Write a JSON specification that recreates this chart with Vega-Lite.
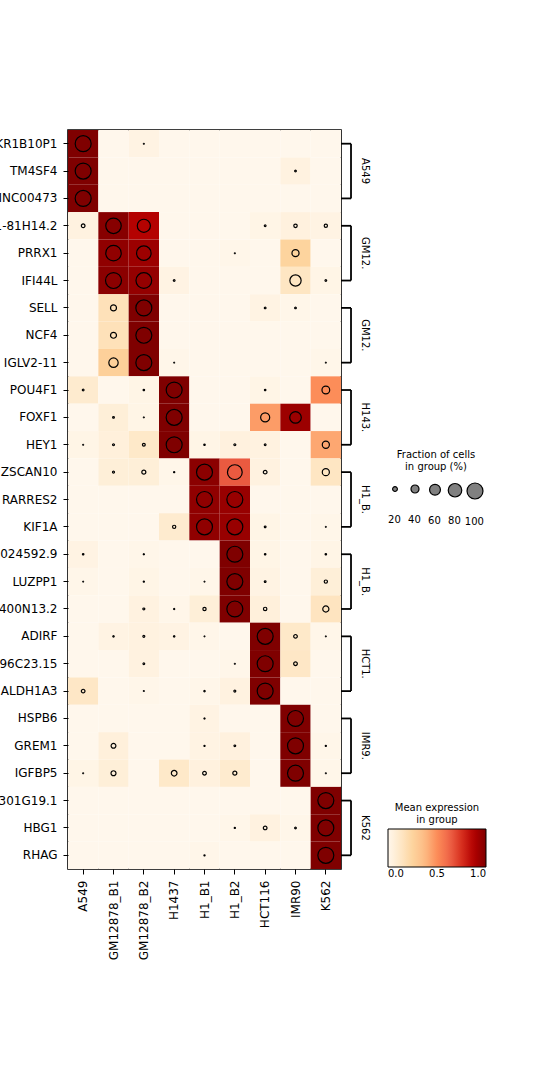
{
  "$schema": "https://vega.github.io/schema/vega-lite/v6.json",
  "width": 273,
  "height": 739,
  "autosize": {"type": "none"},
  "padding": {"left": 68, "top": 130, "right": 199, "bottom": 211},
  "background": "white",
  "config": {
    "font": "DejaVu Sans",
    "view": {"stroke": "black", "strokeWidth": 1.6},
    "axis": {"domain": false, "tickColor": "black", "tickWidth": 1, "tickSize": 5, "labelPadding": 6, "labelFontSize": 12, "labelColor": "black", "title": null},
    "legend": {"titleFontSize": 10, "titleFontWeight": "normal", "titleColor": "black", "labelFontSize": 10, "labelColor": "black", "padding": 0}
  },
  "datasets": {
    "cells": [
      {"gene":"AKR1B10P1","group":"A549","expr":1,"frac":100},{"gene":"AKR1B10P1","group":"GM12878_B1","expr":0,"frac":0},{"gene":"AKR1B10P1","group":"GM12878_B2","expr":0.03,"frac":2},{"gene":"AKR1B10P1","group":"H1437","expr":0,"frac":0},{"gene":"AKR1B10P1","group":"H1_B1","expr":0,"frac":0},{"gene":"AKR1B10P1","group":"H1_B2","expr":0,"frac":0},{"gene":"AKR1B10P1","group":"HCT116","expr":0,"frac":0},{"gene":"AKR1B10P1","group":"IMR90","expr":0,"frac":0},{"gene":"AKR1B10P1","group":"K562","expr":0,"frac":0},
      {"gene":"TM4SF4","group":"A549","expr":1,"frac":100},{"gene":"TM4SF4","group":"GM12878_B1","expr":0,"frac":0},{"gene":"TM4SF4","group":"GM12878_B2","expr":0,"frac":0},{"gene":"TM4SF4","group":"H1437","expr":0,"frac":0},{"gene":"TM4SF4","group":"H1_B1","expr":0,"frac":0},{"gene":"TM4SF4","group":"H1_B2","expr":0,"frac":0},{"gene":"TM4SF4","group":"HCT116","expr":0,"frac":0},{"gene":"TM4SF4","group":"IMR90","expr":0.04,"frac":5},{"gene":"TM4SF4","group":"K562","expr":0,"frac":0},
      {"gene":"LINC00473","group":"A549","expr":1,"frac":100},{"gene":"LINC00473","group":"GM12878_B1","expr":0,"frac":0},{"gene":"LINC00473","group":"GM12878_B2","expr":0,"frac":0},{"gene":"LINC00473","group":"H1437","expr":0,"frac":0},{"gene":"LINC00473","group":"H1_B1","expr":0,"frac":0},{"gene":"LINC00473","group":"H1_B2","expr":0,"frac":0},{"gene":"LINC00473","group":"HCT116","expr":0,"frac":0},{"gene":"LINC00473","group":"IMR90","expr":0,"frac":0},{"gene":"LINC00473","group":"K562","expr":0,"frac":0},
      {"gene":"RP11-81H14.2","group":"A549","expr":0.04,"frac":14},{"gene":"RP11-81H14.2","group":"GM12878_B1","expr":0.98,"frac":96},{"gene":"RP11-81H14.2","group":"GM12878_B2","expr":0.87,"frac":77},{"gene":"RP11-81H14.2","group":"H1437","expr":0,"frac":0},{"gene":"RP11-81H14.2","group":"H1_B1","expr":0,"frac":0},{"gene":"RP11-81H14.2","group":"H1_B2","expr":0,"frac":0},{"gene":"RP11-81H14.2","group":"HCT116","expr":0.02,"frac":5},{"gene":"RP11-81H14.2","group":"IMR90","expr":0.05,"frac":13},{"gene":"RP11-81H14.2","group":"K562","expr":0.03,"frac":12},
      {"gene":"PRRX1","group":"A549","expr":0,"frac":0},{"gene":"PRRX1","group":"GM12878_B1","expr":0.96,"frac":96},{"gene":"PRRX1","group":"GM12878_B2","expr":0.93,"frac":88},{"gene":"PRRX1","group":"H1437","expr":0,"frac":0},{"gene":"PRRX1","group":"H1_B1","expr":0,"frac":0},{"gene":"PRRX1","group":"H1_B2","expr":0.01,"frac":2},{"gene":"PRRX1","group":"HCT116","expr":0,"frac":0},{"gene":"PRRX1","group":"IMR90","expr":0.25,"frac":34},{"gene":"PRRX1","group":"K562","expr":0,"frac":0},
      {"gene":"IFI44L","group":"A549","expr":0,"frac":0},{"gene":"IFI44L","group":"GM12878_B1","expr":0.97,"frac":100},{"gene":"IFI44L","group":"GM12878_B2","expr":0.95,"frac":98},{"gene":"IFI44L","group":"H1437","expr":0.03,"frac":5},{"gene":"IFI44L","group":"H1_B1","expr":0,"frac":0},{"gene":"IFI44L","group":"H1_B2","expr":0,"frac":0},{"gene":"IFI44L","group":"HCT116","expr":0,"frac":0},{"gene":"IFI44L","group":"IMR90","expr":0.14,"frac":63},{"gene":"IFI44L","group":"K562","expr":0.02,"frac":5},
      {"gene":"SELL","group":"A549","expr":0,"frac":0},{"gene":"SELL","group":"GM12878_B1","expr":0.17,"frac":27},{"gene":"SELL","group":"GM12878_B2","expr":1,"frac":100},{"gene":"SELL","group":"H1437","expr":0,"frac":0},{"gene":"SELL","group":"H1_B1","expr":0,"frac":0},{"gene":"SELL","group":"H1_B2","expr":0,"frac":0},{"gene":"SELL","group":"HCT116","expr":0.03,"frac":5},{"gene":"SELL","group":"IMR90","expr":0.01,"frac":5},{"gene":"SELL","group":"K562","expr":0,"frac":0},
      {"gene":"NCF4","group":"A549","expr":0,"frac":0},{"gene":"NCF4","group":"GM12878_B1","expr":0.17,"frac":27},{"gene":"NCF4","group":"GM12878_B2","expr":1,"frac":100},{"gene":"NCF4","group":"H1437","expr":0,"frac":0},{"gene":"NCF4","group":"H1_B1","expr":0,"frac":0},{"gene":"NCF4","group":"H1_B2","expr":0,"frac":0},{"gene":"NCF4","group":"HCT116","expr":0,"frac":0},{"gene":"NCF4","group":"IMR90","expr":0,"frac":0},{"gene":"NCF4","group":"K562","expr":0,"frac":0},
      {"gene":"IGLV2-11","group":"A549","expr":0,"frac":0},{"gene":"IGLV2-11","group":"GM12878_B1","expr":0.27,"frac":49},{"gene":"IGLV2-11","group":"GM12878_B2","expr":1,"frac":100},{"gene":"IGLV2-11","group":"H1437","expr":0.01,"frac":2},{"gene":"IGLV2-11","group":"H1_B1","expr":0,"frac":0},{"gene":"IGLV2-11","group":"H1_B2","expr":0,"frac":0},{"gene":"IGLV2-11","group":"HCT116","expr":0,"frac":0},{"gene":"IGLV2-11","group":"IMR90","expr":0,"frac":0},{"gene":"IGLV2-11","group":"K562","expr":0.01,"frac":2},
      {"gene":"POU4F1","group":"A549","expr":0.1,"frac":5},{"gene":"POU4F1","group":"GM12878_B1","expr":0,"frac":0},{"gene":"POU4F1","group":"GM12878_B2","expr":0.02,"frac":4},{"gene":"POU4F1","group":"H1437","expr":1,"frac":100},{"gene":"POU4F1","group":"H1_B1","expr":0,"frac":0},{"gene":"POU4F1","group":"H1_B2","expr":0,"frac":0},{"gene":"POU4F1","group":"HCT116","expr":0.02,"frac":4},{"gene":"POU4F1","group":"IMR90","expr":0,"frac":0},{"gene":"POU4F1","group":"K562","expr":0.5,"frac":38},
      {"gene":"FOXF1","group":"A549","expr":0,"frac":0},{"gene":"FOXF1","group":"GM12878_B1","expr":0.07,"frac":5},{"gene":"FOXF1","group":"GM12878_B2","expr":0.02,"frac":2},{"gene":"FOXF1","group":"H1437","expr":1,"frac":100},{"gene":"FOXF1","group":"H1_B1","expr":0,"frac":0},{"gene":"FOXF1","group":"H1_B2","expr":0,"frac":0},{"gene":"FOXF1","group":"HCT116","expr":0.46,"frac":47},{"gene":"FOXF1","group":"IMR90","expr":0.93,"frac":65},{"gene":"FOXF1","group":"K562","expr":0,"frac":0},
      {"gene":"HEY1","group":"A549","expr":0.02,"frac":2},{"gene":"HEY1","group":"GM12878_B1","expr":0.06,"frac":6},{"gene":"HEY1","group":"GM12878_B2","expr":0.12,"frac":10},{"gene":"HEY1","group":"H1437","expr":1,"frac":100},{"gene":"HEY1","group":"H1_B1","expr":0.02,"frac":4},{"gene":"HEY1","group":"H1_B2","expr":0.05,"frac":6},{"gene":"HEY1","group":"HCT116","expr":0.04,"frac":5},{"gene":"HEY1","group":"IMR90","expr":0,"frac":0},{"gene":"HEY1","group":"K562","expr":0.43,"frac":34},
      {"gene":"ZSCAN10","group":"A549","expr":0,"frac":0},{"gene":"ZSCAN10","group":"GM12878_B1","expr":0.07,"frac":6},{"gene":"ZSCAN10","group":"GM12878_B2","expr":0.07,"frac":16},{"gene":"ZSCAN10","group":"H1437","expr":0.01,"frac":3},{"gene":"ZSCAN10","group":"H1_B1","expr":0.97,"frac":100},{"gene":"ZSCAN10","group":"H1_B2","expr":0.65,"frac":90},{"gene":"ZSCAN10","group":"HCT116","expr":0.04,"frac":14},{"gene":"ZSCAN10","group":"IMR90","expr":0,"frac":0},{"gene":"ZSCAN10","group":"K562","expr":0.14,"frac":34},
      {"gene":"RARRES2","group":"A549","expr":0,"frac":0},{"gene":"RARRES2","group":"GM12878_B1","expr":0,"frac":0},{"gene":"RARRES2","group":"GM12878_B2","expr":0,"frac":0},{"gene":"RARRES2","group":"H1437","expr":0,"frac":0},{"gene":"RARRES2","group":"H1_B1","expr":0.96,"frac":100},{"gene":"RARRES2","group":"H1_B2","expr":0.94,"frac":100},{"gene":"RARRES2","group":"HCT116","expr":0,"frac":0},{"gene":"RARRES2","group":"IMR90","expr":0,"frac":0},{"gene":"RARRES2","group":"K562","expr":0,"frac":0},
      {"gene":"KIF1A","group":"A549","expr":0,"frac":0},{"gene":"KIF1A","group":"GM12878_B1","expr":0,"frac":0},{"gene":"KIF1A","group":"GM12878_B2","expr":0,"frac":0},{"gene":"KIF1A","group":"H1437","expr":0.1,"frac":12},{"gene":"KIF1A","group":"H1_B1","expr":0.96,"frac":100},{"gene":"KIF1A","group":"H1_B2","expr":0.94,"frac":100},{"gene":"KIF1A","group":"HCT116","expr":0.02,"frac":5},{"gene":"KIF1A","group":"IMR90","expr":0,"frac":0},{"gene":"KIF1A","group":"K562","expr":0.01,"frac":2},
      {"gene":"AC024592.9","group":"A549","expr":0.03,"frac":4},{"gene":"AC024592.9","group":"GM12878_B1","expr":0,"frac":0},{"gene":"AC024592.9","group":"GM12878_B2","expr":0.01,"frac":3},{"gene":"AC024592.9","group":"H1437","expr":0,"frac":0},{"gene":"AC024592.9","group":"H1_B1","expr":0,"frac":0},{"gene":"AC024592.9","group":"H1_B2","expr":1,"frac":100},{"gene":"AC024592.9","group":"HCT116","expr":0.02,"frac":4},{"gene":"AC024592.9","group":"IMR90","expr":0,"frac":0},{"gene":"AC024592.9","group":"K562","expr":0.02,"frac":4},
      {"gene":"LUZPP1","group":"A549","expr":0.01,"frac":2},{"gene":"LUZPP1","group":"GM12878_B1","expr":0,"frac":0},{"gene":"LUZPP1","group":"GM12878_B2","expr":0.02,"frac":3},{"gene":"LUZPP1","group":"H1437","expr":0,"frac":0},{"gene":"LUZPP1","group":"H1_B1","expr":0.01,"frac":2},{"gene":"LUZPP1","group":"H1_B2","expr":1,"frac":100},{"gene":"LUZPP1","group":"HCT116","expr":0.03,"frac":5},{"gene":"LUZPP1","group":"IMR90","expr":0,"frac":0},{"gene":"LUZPP1","group":"K562","expr":0.07,"frac":12},
      {"gene":"RP11-400N13.2","group":"A549","expr":0,"frac":0},{"gene":"RP11-400N13.2","group":"GM12878_B1","expr":0,"frac":0},{"gene":"RP11-400N13.2","group":"GM12878_B2","expr":0.04,"frac":6},{"gene":"RP11-400N13.2","group":"H1437","expr":0.01,"frac":3},{"gene":"RP11-400N13.2","group":"H1_B1","expr":0.07,"frac":12},{"gene":"RP11-400N13.2","group":"H1_B2","expr":1,"frac":100},{"gene":"RP11-400N13.2","group":"HCT116","expr":0.06,"frac":13},{"gene":"RP11-400N13.2","group":"IMR90","expr":0,"frac":0},{"gene":"RP11-400N13.2","group":"K562","expr":0.15,"frac":28},
      {"gene":"ADIRF","group":"A549","expr":0,"frac":0},{"gene":"ADIRF","group":"GM12878_B1","expr":0.03,"frac":4},{"gene":"ADIRF","group":"GM12878_B2","expr":0.04,"frac":6},{"gene":"ADIRF","group":"H1437","expr":0.03,"frac":4},{"gene":"ADIRF","group":"H1_B1","expr":0.01,"frac":2},{"gene":"ADIRF","group":"H1_B2","expr":0,"frac":0},{"gene":"ADIRF","group":"HCT116","expr":1,"frac":100},{"gene":"ADIRF","group":"IMR90","expr":0.12,"frac":14},{"gene":"ADIRF","group":"K562","expr":0.01,"frac":2},
      {"gene":"RP11-96C23.15","group":"A549","expr":0,"frac":0},{"gene":"RP11-96C23.15","group":"GM12878_B1","expr":0,"frac":0},{"gene":"RP11-96C23.15","group":"GM12878_B2","expr":0.04,"frac":5},{"gene":"RP11-96C23.15","group":"H1437","expr":0,"frac":0},{"gene":"RP11-96C23.15","group":"H1_B1","expr":0,"frac":0},{"gene":"RP11-96C23.15","group":"H1_B2","expr":0.01,"frac":2},{"gene":"RP11-96C23.15","group":"HCT116","expr":1,"frac":100},{"gene":"RP11-96C23.15","group":"IMR90","expr":0.13,"frac":14},{"gene":"RP11-96C23.15","group":"K562","expr":0,"frac":0},
      {"gene":"ALDH1A3","group":"A549","expr":0.13,"frac":14},{"gene":"ALDH1A3","group":"GM12878_B1","expr":0,"frac":0},{"gene":"ALDH1A3","group":"GM12878_B2","expr":0.01,"frac":2},{"gene":"ALDH1A3","group":"H1437","expr":0,"frac":0},{"gene":"ALDH1A3","group":"H1_B1","expr":0.01,"frac":4},{"gene":"ALDH1A3","group":"H1_B2","expr":0.04,"frac":6},{"gene":"ALDH1A3","group":"HCT116","expr":1,"frac":100},{"gene":"ALDH1A3","group":"IMR90","expr":0,"frac":0},{"gene":"ALDH1A3","group":"K562","expr":0,"frac":0},
      {"gene":"HSPB6","group":"A549","expr":0,"frac":0},{"gene":"HSPB6","group":"GM12878_B1","expr":0,"frac":0},{"gene":"HSPB6","group":"GM12878_B2","expr":0,"frac":0},{"gene":"HSPB6","group":"H1437","expr":0,"frac":0},{"gene":"HSPB6","group":"H1_B1","expr":0.03,"frac":3},{"gene":"HSPB6","group":"H1_B2","expr":0,"frac":0},{"gene":"HSPB6","group":"HCT116","expr":0,"frac":0},{"gene":"HSPB6","group":"IMR90","expr":1,"frac":100},{"gene":"HSPB6","group":"K562","expr":0,"frac":0},
      {"gene":"GREM1","group":"A549","expr":0,"frac":0},{"gene":"GREM1","group":"GM12878_B1","expr":0.06,"frac":20},{"gene":"GREM1","group":"GM12878_B2","expr":0,"frac":0},{"gene":"GREM1","group":"H1437","expr":0,"frac":0},{"gene":"GREM1","group":"H1_B1","expr":0.03,"frac":3},{"gene":"GREM1","group":"H1_B2","expr":0.05,"frac":5},{"gene":"GREM1","group":"HCT116","expr":0,"frac":0},{"gene":"GREM1","group":"IMR90","expr":1,"frac":100},{"gene":"GREM1","group":"K562","expr":0.01,"frac":3},
      {"gene":"IGFBP5","group":"A549","expr":0.02,"frac":2},{"gene":"IGFBP5","group":"GM12878_B1","expr":0.07,"frac":21},{"gene":"IGFBP5","group":"GM12878_B2","expr":0,"frac":0},{"gene":"IGFBP5","group":"H1437","expr":0.12,"frac":25},{"gene":"IGFBP5","group":"H1_B1","expr":0.05,"frac":14},{"gene":"IGFBP5","group":"H1_B2","expr":0.1,"frac":16},{"gene":"IGFBP5","group":"HCT116","expr":0,"frac":0},{"gene":"IGFBP5","group":"IMR90","expr":1,"frac":100},{"gene":"IGFBP5","group":"K562","expr":0.01,"frac":2},
      {"gene":"RP11-301G19.1","group":"A549","expr":0,"frac":0},{"gene":"RP11-301G19.1","group":"GM12878_B1","expr":0,"frac":0},{"gene":"RP11-301G19.1","group":"GM12878_B2","expr":0,"frac":0},{"gene":"RP11-301G19.1","group":"H1437","expr":0,"frac":0},{"gene":"RP11-301G19.1","group":"H1_B1","expr":0,"frac":0},{"gene":"RP11-301G19.1","group":"H1_B2","expr":0,"frac":0},{"gene":"RP11-301G19.1","group":"HCT116","expr":0,"frac":0},{"gene":"RP11-301G19.1","group":"IMR90","expr":0,"frac":0},{"gene":"RP11-301G19.1","group":"K562","expr":1,"frac":100},
      {"gene":"HBG1","group":"A549","expr":0,"frac":0},{"gene":"HBG1","group":"GM12878_B1","expr":0,"frac":0},{"gene":"HBG1","group":"GM12878_B2","expr":0,"frac":0},{"gene":"HBG1","group":"H1437","expr":0,"frac":0},{"gene":"HBG1","group":"H1_B1","expr":0,"frac":0},{"gene":"HBG1","group":"H1_B2","expr":0.01,"frac":3},{"gene":"HBG1","group":"HCT116","expr":0.04,"frac":14},{"gene":"HBG1","group":"IMR90","expr":0.01,"frac":5},{"gene":"HBG1","group":"K562","expr":1,"frac":100},
      {"gene":"RHAG","group":"A549","expr":0,"frac":0},{"gene":"RHAG","group":"GM12878_B1","expr":0,"frac":0},{"gene":"RHAG","group":"GM12878_B2","expr":0,"frac":0},{"gene":"RHAG","group":"H1437","expr":0,"frac":0},{"gene":"RHAG","group":"H1_B1","expr":0.01,"frac":3},{"gene":"RHAG","group":"H1_B2","expr":0,"frac":0},{"gene":"RHAG","group":"HCT116","expr":0,"frac":0},{"gene":"RHAG","group":"IMR90","expr":0,"frac":0},{"gene":"RHAG","group":"K562","expr":1,"frac":100}
    ],
    "brackets": [
      {"label":"A549","first":"AKR1B10P1","mid":"TM4SF4","last":"LINC00473"},
      {"label":"GM12.","first":"RP11-81H14.2","mid":"PRRX1","last":"IFI44L"},
      {"label":"GM12.","first":"SELL","mid":"NCF4","last":"IGLV2-11"},
      {"label":"H143.","first":"POU4F1","mid":"FOXF1","last":"HEY1"},
      {"label":"H1_B.","first":"ZSCAN10","mid":"RARRES2","last":"KIF1A"},
      {"label":"H1_B.","first":"AC024592.9","mid":"LUZPP1","last":"RP11-400N13.2"},
      {"label":"HCT1.","first":"ADIRF","mid":"RP11-96C23.15","last":"ALDH1A3"},
      {"label":"IMR9.","first":"HSPB6","mid":"GREM1","last":"IGFBP5"},
      {"label":"K562","first":"RP11-301G19.1","mid":"HBG1","last":"RHAG"}
    ]
  },
  "resolve": {"scale": {"x": "independent"}},
  "layer": [
    {
      "data": {"name": "cells"},
      "encoding": {
        "x": {"field": "group", "type": "nominal", "sort": ["A549","GM12878_B1","GM12878_B2","H1437","H1_B1","H1_B2","HCT116","IMR90","K562"], "axis": {"labelAngle": 270}},
        "y": {"field": "gene", "type": "nominal", "scale": {"domain": ["AKR1B10P1","TM4SF4","LINC00473","RP11-81H14.2","PRRX1","IFI44L","SELL","NCF4","IGLV2-11","POU4F1","FOXF1","HEY1","ZSCAN10","RARRES2","KIF1A","AC024592.9","LUZPP1","RP11-400N13.2","ADIRF","RP11-96C23.15","ALDH1A3","HSPB6","GREM1","IGFBP5","RP11-301G19.1","HBG1","RHAG"]}}
      },
      "layer": [
        {
          "mark": {"type": "rect", "strokeWidth": 0},
          "encoding": {
            "color": {"field": "expr", "type": "quantitative",
              "scale": {"domain": [0, 0.125, 0.25, 0.375, 0.5, 0.625, 0.75, 0.875, 1], "range": ["#fff7ec","#fee8c8","#fdd49e","#fdbb84","#fc8d59","#ef6548","#d7301f","#b30000","#7f0000"], "interpolate": "rgb"},
              "legend": {"title": ["Mean expression", "in group"], "orient": "none", "direction": "horizontal", "legendX": 320, "legendY": 673, "gradientLength": 98, "gradientThickness": 38, "values": [0, 0.5, 1], "format": ".1f", "gradientStrokeColor": "black", "gradientStrokeWidth": 1, "titleAnchor": "middle", "titleAlign": "center", "titlePadding": 4}}
          }
        },
        {
          "transform": [{"filter": "datum.frac > 0"}],
          "mark": {"type": "point", "shape": "circle", "filled": false, "stroke": "black", "strokeWidth": 1.2, "opacity": 1},
          "encoding": {
            "size": {"field": "frac", "type": "quantitative", "scale": {"type": "pow", "exponent": 1.5, "domain": [0, 100], "range": [0, 255]},
              "legend": {"title": ["Fraction of cells", "in group (%)"], "orient": "none", "direction": "horizontal", "columns": 5, "gridAlign": "all", "legendX": 318, "legendY": 320, "values": [20, 40, 60, 80, 100], "symbolOpacity": 1, "labelAlign": "center", "labelOffset": -9.6, "columnPadding": -2.7, "titleAnchor": "middle", "titleAlign": "center", "titlePadding": 10,
                "encoding": {"entries": {"width": {"value": 19.3}}, "labels": {"dy": {"value": 31}}, "symbols": {"fill": {"value": "#808080"}, "fillOpacity": {"value": 1}, "stroke": {"value": "black"}, "strokeWidth": {"value": 1.2}, "strokeOpacity": {"value": 1}}}}}
          }
        }
      ]
    },
    {
      "data": {"name": "brackets"},
      "layer": [
        {
          "transform": [{"fold": ["first", "last"], "as": ["end", "gene"]}],
          "mark": {"type": "rule", "color": "black", "strokeWidth": 1.8},
          "encoding": {
            "x": {"datum": 9, "type": "quantitative", "scale": {"domain": [0, 9], "nice": false, "zero": false}, "axis": null},
            "x2": {"datum": 9.33},
            "y": {"field": "gene", "type": "nominal", "scale": {"domain": ["AKR1B10P1","TM4SF4","LINC00473","RP11-81H14.2","PRRX1","IFI44L","SELL","NCF4","IGLV2-11","POU4F1","FOXF1","HEY1","ZSCAN10","RARRES2","KIF1A","AC024592.9","LUZPP1","RP11-400N13.2","ADIRF","RP11-96C23.15","ALDH1A3","HSPB6","GREM1","IGFBP5","RP11-301G19.1","HBG1","RHAG"]}}
          }
        },
        {
          "mark": {"type": "rule", "color": "black", "strokeWidth": 1.8},
          "encoding": {
            "x": {"datum": 9.33, "type": "quantitative", "scale": {"domain": [0, 9], "nice": false, "zero": false}, "axis": null},
            "y": {"field": "first", "type": "nominal", "scale": {"domain": ["AKR1B10P1","TM4SF4","LINC00473","RP11-81H14.2","PRRX1","IFI44L","SELL","NCF4","IGLV2-11","POU4F1","FOXF1","HEY1","ZSCAN10","RARRES2","KIF1A","AC024592.9","LUZPP1","RP11-400N13.2","ADIRF","RP11-96C23.15","ALDH1A3","HSPB6","GREM1","IGFBP5","RP11-301G19.1","HBG1","RHAG"]}},
            "y2": {"field": "last"}
          }
        },
        {
          "mark": {"type": "text", "angle": 90, "align": "center", "baseline": "middle", "fontSize": 10, "color": "black"},
          "encoding": {
            "x": {"datum": 9.78, "type": "quantitative", "scale": {"domain": [0, 9], "nice": false, "zero": false}, "axis": null},
            "y": {"field": "mid", "type": "nominal", "scale": {"domain": ["AKR1B10P1","TM4SF4","LINC00473","RP11-81H14.2","PRRX1","IFI44L","SELL","NCF4","IGLV2-11","POU4F1","FOXF1","HEY1","ZSCAN10","RARRES2","KIF1A","AC024592.9","LUZPP1","RP11-400N13.2","ADIRF","RP11-96C23.15","ALDH1A3","HSPB6","GREM1","IGFBP5","RP11-301G19.1","HBG1","RHAG"]}},
            "text": {"field": "label"}
          }
        }
      ]
    }
  ]
}
